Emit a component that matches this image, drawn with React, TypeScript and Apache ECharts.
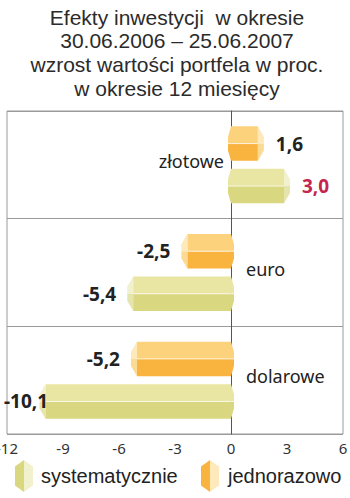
import React, { useEffect, useRef } from "react";
import * as echarts from "echarts";

const categories = ["złotowe", "euro", "dolarowe"];
const jednorazowo = [1.6, -2.5, -5.2];
const systematycznie = [3.0, -5.4, -10.1];
const xTicks = { min: -12, max: 6, interval: 3 };
const titleLines = [
  "Efekty inwestycji  w okresie",
  "30.06.2006 – 25.06.2007",
  "wzrost wartości portfela w proc.",
  "w okresie 12 miesięcy",
];
const legendNames = ["systematycznie", "jednorazowo"];
const highlightLabel = { series: "systematycznie", index: 0 };

const FONT = "'Noto Sans', sans-serif";
const TFONT = "'Liberation Sans', Arial, sans-serif";

const ORANGE = { top: "#fdd27c", bottom: "#f8b43e", capTop: "#fde9b9", capBottom: "#fbdb94" };
const GREEN = { top: "#e8e6a2", bottom: "#d9d77f", capTop: "#f2f1cd", capBottom: "#e6e4ad" };

const fmt = (v: number) => v.toFixed(1).replace(".", ",");

function makeRender(offsetSign: number, colors: any, seriesName: string) {
  return (params: any, api: any) => {
    const cat = api.value(0);
    const v = api.value(1);
    const p0 = api.coord([0, cat]);
    const p1 = api.coord([v, cat]);
    const band = api.size([0, 1])[1];
    const h = band * 0.32;
    const gap = band * 0.075;
    const cy = p0[1] + offsetSign * (h / 2 + gap / 2);
    const yT = cy - h / 2;
    const yB = cy + h / 2;
    const yM = cy;
    const d = v >= 0 ? 1 : -1;
    const x0 = p0[0];
    const x1 = p1[0];
    const xe = x1 - d * 3;
    const capW = 6;
    const chamf = h * 0.3;
    const children: any[] = [];
    children.push({
      type: "polygon",
      shape: { points: [[x0, yT], [xe, yT], [xe, yM], [x0 - d * 3, yM], [x0 - d * 3, yT + chamf]] },
      style: { fill: colors.top },
    });
    children.push({
      type: "polygon",
      shape: { points: [[x0 - d * 3, yM], [xe, yM], [xe, yB], [x0, yB], [x0 - d * 3, yB - chamf]] },
      style: { fill: colors.bottom },
    });
    children.push({
      type: "polygon",
      shape: { points: [[xe, yT], [xe + d * capW, yT + chamf], [xe + d * capW, yM], [xe, yM]] },
      style: { fill: colors.capTop },
    });
    children.push({
      type: "polygon",
      shape: { points: [[xe, yM], [xe + d * capW, yM], [xe + d * capW, yB - chamf], [xe, yB]] },
      style: { fill: colors.capBottom },
    });
    children.push({
      type: "line",
      shape: { x1: x0 - d * 3, y1: yM, x2: xe, y2: yM },
      style: { stroke: "rgba(255,255,255,0.75)", lineWidth: 1 },
    });
    const text = fmt(v);
    const estW = text.length * 9.6;
    let lx: number;
    let align: string;
    if (d > 0) {
      lx = xe + capW + 12;
      align = "left";
    } else {
      lx = xe - capW - 11;
      align = "right";
      if (lx - estW < 4) {
        lx = 4;
        align = "left";
      }
    }
    const isHi = seriesName === highlightLabel.series && params.dataIndex === highlightLabel.index;
    children.push({
      type: "text",
      style: {
        text,
        x: lx,
        y: cy,
        align,
        textAlign: align,
        verticalAlign: "middle",
        textVerticalAlign: "middle",
        fill: isHi ? "#c4264f" : "#222",
        font: `bold 19px ${FONT}`,
      },
    });
    return { type: "group", children };
  };
}

function renderCatLabel(params: any, api: any) {
  const cat = api.value(0);
  const i = params.dataIndex;
  const maxV = Math.max(jednorazowo[i], systematycznie[i]);
  const p0 = api.coord([0, cat]);
  const positive = maxV > 0;
  return {
    type: "text",
    style: {
      text: categories[i],
      x: positive ? p0[0] - 7 : p0[0] + 15,
      y: p0[1] - 4,
      align: positive ? "right" : "left",
      textAlign: positive ? "right" : "left",
      verticalAlign: "middle",
      textVerticalAlign: "middle",
      fill: "#222",
      font: `18px ${FONT}`,
    },
  };
}

export default function App() {
  const ref = useRef<HTMLDivElement>(null);
  useEffect(() => {
    const chart = echarts.init(ref.current!, null, { renderer: "svg" });
    const hex = (cx: number, cy: number, w: number, hh: number) => {
      const t = cy - hh / 2, b = cy + hh / 2, l = cx - w / 2, r = cx + w / 2;
      const k = hh * 0.2;
      return {
        left: [[cx, t], [cx, b], [l, b - k], [l, t + k]],
        right: [[cx, t], [r, t + k], [r, b - k], [cx, b]],
      };
    };
    const g = hex(24, 476, 18, 32);
    const o = hex(210, 476, 18, 32);
    const titleTexts = titleLines.map((line, i) => ({
      type: "text",
      x: 177,
      y: 17 + i * 23.8,
      style: {
        text: line,
        fill: "#2b2b2b",
        font: `21px ${TFONT}`,
        align: "center",
        textAlign: "center",
        verticalAlign: "middle",
        textVerticalAlign: "middle",
      },
    }));
    chart.setOption({
      animation: false,
      backgroundColor: "#fff",
      grid: {
        left: 7,
        right: 7,
        top: 111,
        bottom: 64,
        show: true,
        borderColor: "#9a9a9a",
        borderWidth: 1,
        containLabel: false,
        outerBoundsMode: "none",
      },
      xAxis: {
        type: "value",
        min: xTicks.min,
        max: xTicks.max,
        interval: xTicks.interval,
        axisLine: { show: false },
        axisTick: { show: false },
        splitLine: { show: false },
        axisLabel: { fontFamily: FONT, fontSize: 15, color: "#333", margin: 6 },
      },
      yAxis: {
        type: "category",
        data: categories,
        inverse: true,
        axisLabel: { show: false },
        axisTick: { show: false },
        axisLine: { show: true, onZero: true, lineStyle: { color: "#555", width: 1 } },
        splitLine: { show: true, lineStyle: { color: "#9a9a9a", width: 1 } },
      },
      series: [
        {
          type: "custom",
          name: "jednorazowo",
          renderItem: makeRender(-1, ORANGE, "jednorazowo"),
          encode: { x: 1, y: 0 },
          data: jednorazowo.map((v, i) => [i, v]),
        },
        {
          type: "custom",
          name: "systematycznie",
          renderItem: makeRender(1, GREEN, "systematycznie"),
          encode: { x: 1, y: 0 },
          data: systematycznie.map((v, i) => [i, v]),
        },
        {
          type: "custom",
          name: "kategorie",
          renderItem: renderCatLabel,
          encode: { x: 1, y: 0 },
          data: categories.map((c, i) => [i, 0]),
        },
      ],
      graphic: [
        ...titleTexts,
        { type: "polygon", shape: { points: g.left }, style: { fill: GREEN.bottom } },
        { type: "polygon", shape: { points: g.right }, style: { fill: GREEN.capTop } },
        { type: "text", x: 41, y: 476, style: { text: legendNames[0], fill: "#222", font: `20px ${TFONT}`, verticalAlign: "middle", textVerticalAlign: "middle" } },
        { type: "polygon", shape: { points: o.left }, style: { fill: ORANGE.bottom } },
        { type: "polygon", shape: { points: o.right }, style: { fill: ORANGE.capTop } },
        { type: "text", x: 228, y: 476, style: { text: legendNames[1], fill: "#222", font: `20px ${TFONT}`, verticalAlign: "middle", textVerticalAlign: "middle" } },
      ],
    });
    return () => chart.dispose();
  }, []);
  return <div ref={ref} style={{ position: "fixed", left: 0, top: 0, width: 350, height: 498 }} />;
}
